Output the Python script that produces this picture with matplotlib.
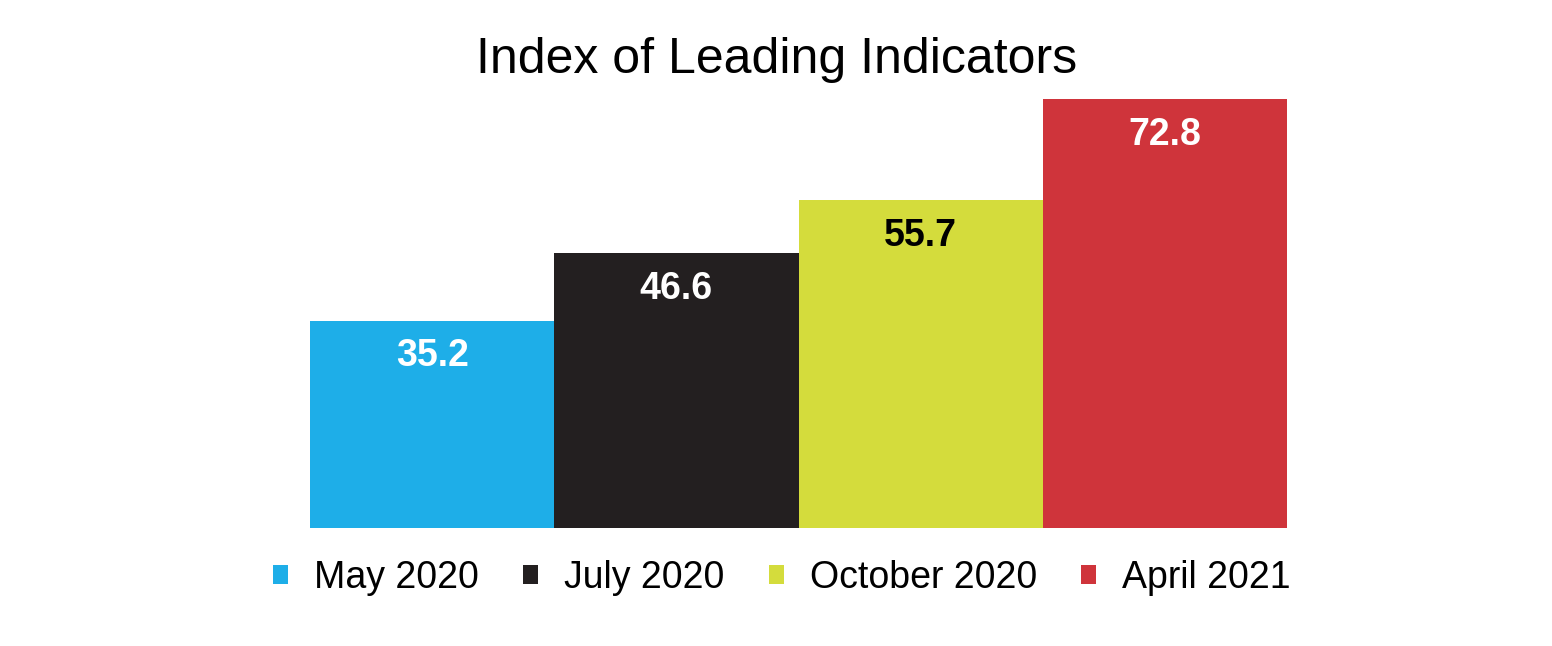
import matplotlib.pyplot as plt
from matplotlib.patches import Patch

plt.rcParams['font.family'] = ['Liberation Sans', 'DejaVu Sans']

periods = ['May 2020', 'July 2020', 'October 2020', 'April 2021']
values = [35.2, 46.6, 55.7, 72.8]
colors = ['#1EAEE8', '#231F20', '#D4DC3C', '#CF343B']
label_colors = ['white', 'white', 'black', 'white']

fig = plt.figure(figsize=(15.52, 6.46), dpi=100)
ax = fig.add_axes([310 / 1552, 1 - 528 / 646, 977 / 1552, 429 / 646])

x = range(len(values))
ax.bar(x, values, width=1.0, color=colors, linewidth=0)
for xi, v, lc in zip(x, values, label_colors):
    ax.annotate(f'{v:.1f}', xy=(xi, v), xytext=(0, -33), textcoords='offset points',
                ha='center', va='baseline', fontsize=27, fontweight='bold', color=lc)

ax.set_xlim(-0.5, len(values) - 0.5)
ax.set_ylim(0, max(values))
ax.axis('off')

fig.text(0.5003, 1 - 73 / 646, 'Index of Leading Indicators', ha='center', va='baseline',
         fontsize=36)

handles = [Patch(facecolor=c, edgecolor='none') for c in colors]
fig.legend(handles, periods, loc='center', bbox_to_anchor=(782 / 1552, 1 - 578 / 646),
           ncol=4, frameon=False, fontsize=27, handlelength=0.4, handleheight=0.42,
           handletextpad=0.7, columnspacing=1.17, borderpad=0)

fig.savefig('out.png', dpi=100)
